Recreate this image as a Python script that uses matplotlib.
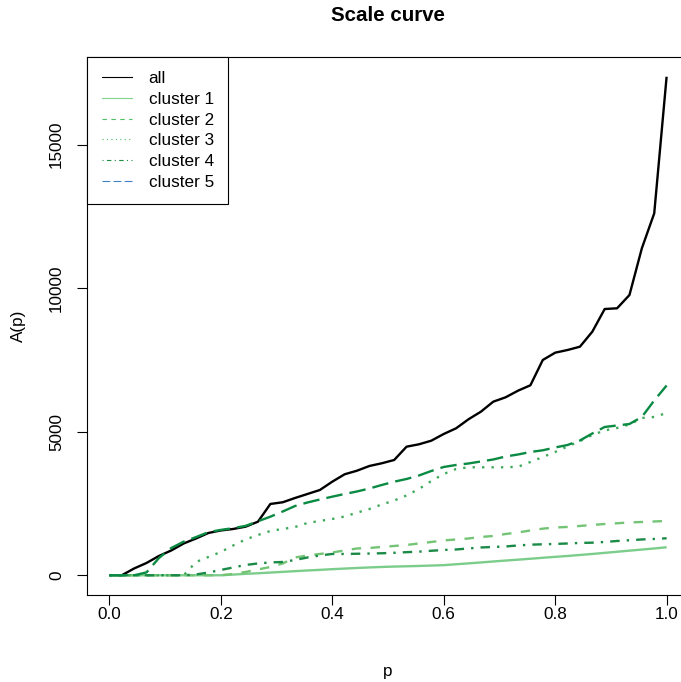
import matplotlib
matplotlib.use("Agg")
import matplotlib.pyplot as plt
from matplotlib.lines import Line2D
import numpy as np

plt.rcParams["font.family"] = ["Liberation Sans", "DejaVu Sans"]

# scale curve sampled on 46 equally spaced p values
p = np.linspace(0, 1, 46)

all_curve = [0, 0, 237, 428, 672, 864, 1107, 1281, 1473, 1560, 1612, 1692, 1866,
             2483, 2542, 2692, 2831, 2970, 3259, 3517, 3642, 3806, 3900, 4015,
             4478, 4561, 4687, 4920, 5118, 5432, 5696, 6045, 6198, 6428, 6616,
             7497, 7751, 7845, 7960, 8482, 9272, 9297, 9760, 11386, 12604, 17361]
cluster1 = [0, 0, 0, 0, 0, 0, 0, 0, 0, 0, 24, 49, 70, 94, 118, 143, 167, 188,
            212, 233, 254, 272, 289, 303, 313, 324, 338, 352, 383, 414, 446, 480,
            512, 543, 575, 609, 641, 672, 707, 742, 780, 818, 857, 895, 933, 975]
cluster2 = [0, 0, 0, 0, 0, 0, 0, 0, 0, 0, 45, 115, 202, 289, 411, 620, 689, 742,
            794, 864, 933, 951, 985, 1020, 1055, 1107, 1159, 1212, 1247, 1281,
            1334, 1368, 1438, 1490, 1560, 1623, 1664, 1682, 1717, 1751, 1786,
            1811, 1838, 1856, 1873, 1891]
cluster3 = [0, 0, 0, 0, 0, 0, 0, 463, 637, 811, 1038, 1247, 1403, 1542, 1612,
            1682, 1821, 1891, 1960, 2047, 2180, 2308, 2465, 2604, 2779, 3005,
            3283, 3527, 3701, 3760, 3760, 3760, 3760, 3778, 3945, 4119, 4293,
            4485, 4676, 4885, 5042, 5129, 5251, 5477, 5512, 5651]
cluster4 = [0, 0, 0, 0, 0, 0, 0, 28, 97, 185, 272, 359, 411, 446, 463, 533, 620,
            689, 742, 742, 749, 756, 766, 783, 804, 822, 853, 881, 898, 933, 968,
            985, 1003, 1038, 1065, 1079, 1090, 1107, 1125, 1135, 1159, 1194, 1219,
            1247, 1264, 1288]
cluster5 = [0, 0, 0, 100, 600, 950, 1170, 1330, 1500, 1580, 1640, 1720, 1880,
            2040, 2221, 2413, 2535, 2639, 2737, 2831, 2918, 3022, 3144, 3259,
            3353, 3475, 3632, 3771, 3841, 3893, 3962, 4032, 4136, 4206, 4293,
            4352, 4450, 4537, 4693, 4937, 5164, 5216, 5268, 5512, 6087, 6608]

labels = ["all", "cluster 1", "cluster 2", "cluster 3", "cluster 4", "cluster 5"]
series = [all_curve, cluster1, cluster2, cluster3, cluster4, cluster5]
colors = ["black", "#7ccd8b", "#74c476", "#41ab5d", "#1b8a47", "#0a8a42"]
legend_colors = ["black", "#7fd68a", "#4cc062", "#4cc062", "#1f8f45", "#3f80c8"]
dashes = [None, None, (4, 4), (1, 3), (1, 3, 4, 3), (7, 3)]

fs = 12.3

fig = plt.figure(figsize=(6.81, 6.82), dpi=100)
ax = fig.add_axes([87.1 / 681, 1 - 595.2 / 682, 601.8 / 681, 538.4 / 682])

for vals, col, d in zip(series, colors, dashes):
    line, = ax.plot(p, vals, color=col, lw=1.7, solid_capstyle="butt")
    if d is not None:
        line.set_dashes(d)

ymax = max(max(s) for s in series)
ax.set_xlim(-0.04, 1.04)
ax.set_ylim(-0.04 * ymax, 1.04 * ymax)
ax.set_xticks([0, 0.2, 0.4, 0.6, 0.8, 1.0])
ax.set_xticklabels(["0.0", "0.2", "0.4", "0.6", "0.8", "1.0"])
ax.set_yticks([0, 5000, 10000, 15000])
ax.tick_params(axis="both", direction="out", length=7, width=0.8, labelsize=fs)
ax.tick_params(axis="x", pad=1.5)
ax.tick_params(axis="y", pad=9.5)
for lab in ax.get_yticklabels():
    lab.set_rotation(90)
    lab.set_va("center")
for sp in ax.spines.values():
    sp.set_linewidth(0.8)

ax.set_xlabel("p", fontsize=fs, labelpad=30)
ax.set_ylabel("A(p)", fontsize=fs, labelpad=16.5)
ax.set_title("Scale curve", fontsize=14.8, fontweight="bold", pad=26)

handles = []
for col, d in zip(legend_colors, dashes):
    h = Line2D([], [], color=col, lw=0.8)
    if d is not None:
        h.set_dashes(d)
    handles.append(h)
leg = ax.legend(handles, labels, loc="upper left", bbox_to_anchor=(0, 1),
                borderaxespad=0, fancybox=False, fontsize=fs, framealpha=1,
                edgecolor="black", handlelength=1.8, handletextpad=0.95,
                labelspacing=0.33, borderpad=0.85)
leg.get_frame().set_linewidth(0.8)

fig.savefig("out.png", dpi=100)
